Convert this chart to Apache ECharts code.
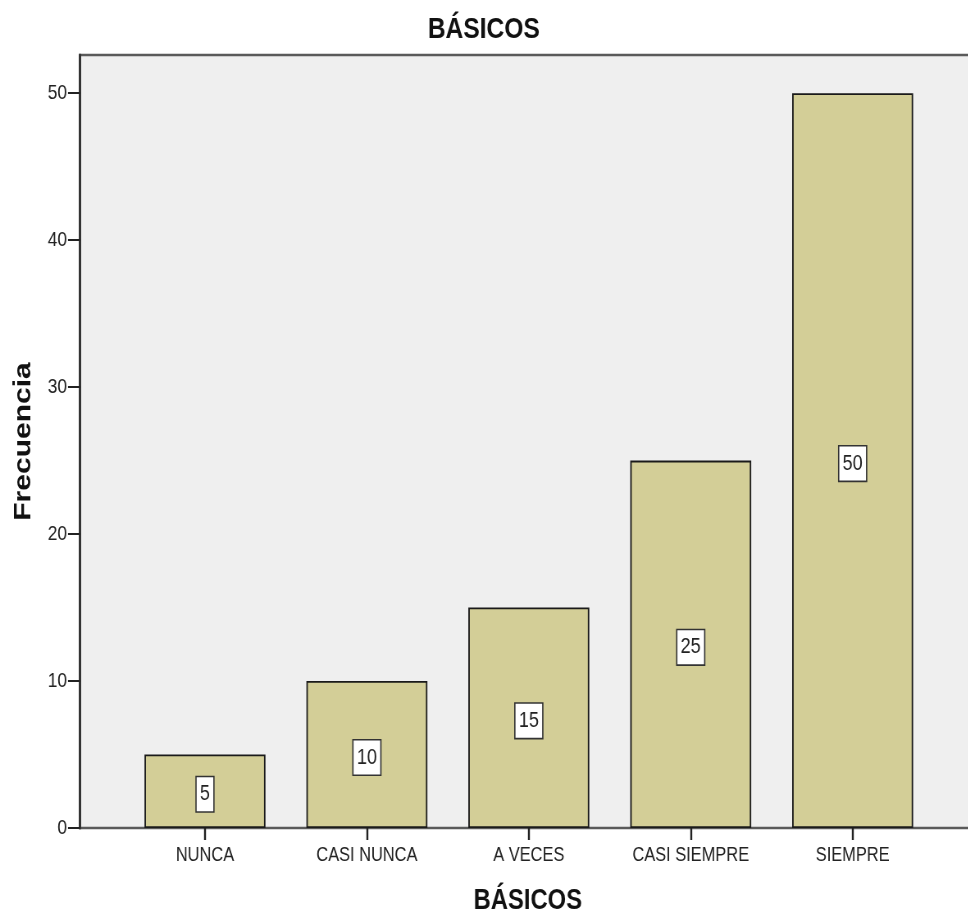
<!DOCTYPE html>
<html>
<head>
<meta charset="utf-8">
<script src="https://cdn.jsdelivr.net/npm/echarts@6/dist/echarts.min.js"></script>
<style>
  html, body { margin: 0; padding: 0; background: #ffffff; overflow: hidden; width: 968px; height: 912px; }
  #chart { height: 912px; transform-origin: 0 0; }
</style>
</head>
<body>
<div id="chart"></div>
<script>
// Frequency of answers per category
const categories = ['NUNCA', 'CASI NUNCA', 'A VECES', 'CASI SIEMPRE', 'SIEMPRE'];
const frequencies = [5, 10, 15, 25, 50];
const yTicks = [0, 10, 20, 30, 40, 50];

const chartTitle = 'BÁSICOS';
const xTitle = 'BÁSICOS';
const yTitle = 'Frecuencia';

// The chart is laid out wider and squeezed horizontally to give the
// condensed lettering of the original export.
const SQUEEZE = 0.82;
const sx = v => v / SQUEEZE;          // convert target pixels to layout pixels
const layoutWidth = sx(968);

const el = document.getElementById('chart');
el.style.width = layoutWidth + 'px';
el.style.transform = 'scaleX(' + SQUEEZE + ')';

const font = "'Liberation Sans', Arial, sans-serif";
const yMax = 52.6;

const chart = echarts.init(el, null, { renderer: 'canvas' });

chart.setOption({
  backgroundColor: '#ffffff',
  animation: false,
  title: {
    text: chartTitle,
    left: 'center',
    top: 10,
    textStyle: { fontFamily: font, fontSize: 30, fontWeight: 'bold', color: '#111' }
  },
  grid: [
    // plot frame with background (runs just past the right edge)
    { left: sx(80), right: -sx(8), top: 55, bottom: 84, show: true, outerBoundsMode: 'none',
      backgroundColor: '#efefef', borderColor: '#5a5a5a', borderWidth: 2.5 },
    // band area holding the bars
    { left: sx(124), right: layoutWidth - sx(124) - sx(810), top: 55, bottom: 84, outerBoundsMode: 'none' }
  ],
  xAxis: [
    { gridIndex: 0, type: 'value', min: 0, max: 1,
      axisLine: { show: false }, axisTick: { show: false },
      axisLabel: { show: false }, splitLine: { show: false },
      name: xTitle, nameLocation: 'middle', nameGap: 58,
      nameTextStyle: { fontFamily: font, fontSize: 29, fontWeight: 'bold', color: '#111' } },
    { gridIndex: 1, type: 'category', data: categories,
      axisLine: { show: false },
      axisTick: { show: true, alignWithLabel: true, length: 12, lineStyle: { color: '#222', width: 2.4 } },
      axisLabel: { interval: 0, margin: 17, fontFamily: font, fontSize: 20, color: '#222' },
      splitLine: { show: false } }
  ],
  yAxis: [
    { gridIndex: 0, type: 'value', min: 0, max: yMax, interval: 10,
      axisLine: { show: true, lineStyle: { color: '#333', width: 3 } },
      axisTick: { show: true, length: sx(12), lineStyle: { color: '#222', width: 2 },
                  customValues: yTicks },
      axisLabel: { margin: sx(13), fontFamily: font, fontSize: 21, color: '#222',
                   customValues: yTicks },
      splitLine: { show: false },
      name: yTitle, nameLocation: 'middle', nameGap: 54,
      nameTextStyle: { fontFamily: font, fontSize: 30, fontWeight: 'bold', color: '#111' } },
    { gridIndex: 1, type: 'value', min: 0, max: yMax, show: false }
  ],
  series: [{
    type: 'bar',
    xAxisIndex: 1,
    yAxisIndex: 1,
    data: frequencies,
    barWidth: sx(121),
    itemStyle: { color: '#d3ce97', borderColor: '#1a1a1a', borderWidth: 1.8 },
    label: {
      show: true,
      position: 'inside',
      offset: [0, 3],
      fontFamily: font,
      fontSize: 22,
      lineHeight: 22,
      color: '#222',
      backgroundColor: '#ffffff',
      borderColor: '#333',
      borderWidth: 1.6,
      padding: [6, 4, 6, 4]
    }
  }]
});
</script>
</body>
</html>
